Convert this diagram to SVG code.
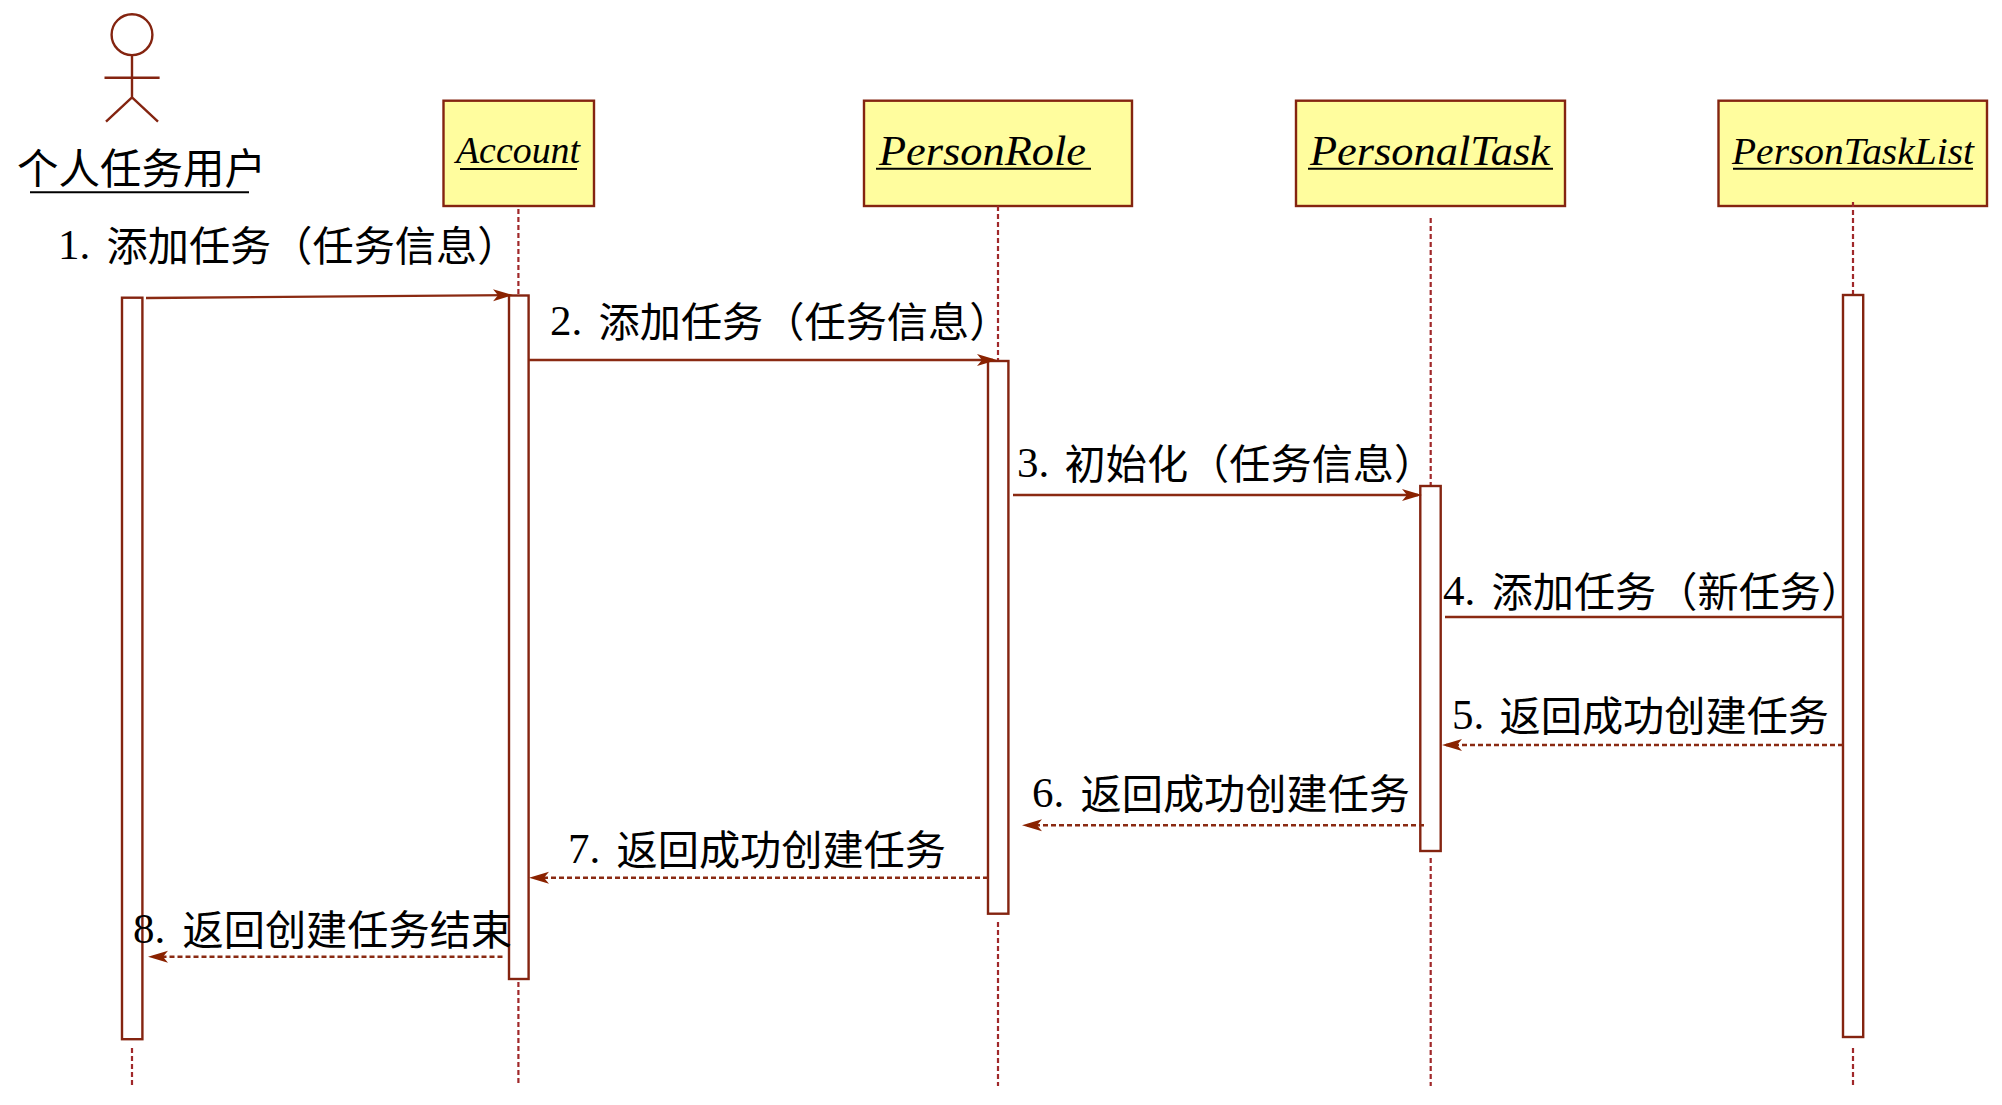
<svg xmlns="http://www.w3.org/2000/svg" width="2002" height="1105" viewBox="0 0 2002 1105">
<defs>
<style>
.box{fill:#fffd9e;stroke:#842410;stroke-width:2.4}
.act{fill:#fff;stroke:#842410;stroke-width:2.4}
.life{fill:none;stroke:#a0282a;stroke-width:2.2;stroke-dasharray:5 3}
.fig{fill:none;stroke:#842410;stroke-width:2.4}
.under{stroke:#000;stroke-width:2}
.msg{fill:none;stroke:#8a2a12;stroke-width:2.4}
.ret{stroke-dasharray:5 3}
.cls{font-family:"Liberation Serif",serif;font-style:italic;fill:#000}
.lbl{font-family:"Liberation Serif","Noto Sans CJK SC",serif;font-size:43px;fill:#000}
.cjk{font-family:"Noto Sans CJK SC",sans-serif;font-size:41.2px;font-weight:400;fill:#000}
</style>
<marker id="head" markerUnits="userSpaceOnUse" markerWidth="22" markerHeight="16" viewBox="0 0 22 16" refX="16" refY="8" orient="auto">
<path d="M20 8L0 2L5 8L0 14Z" fill="#8a2200"/>
</marker>
</defs>
<rect width="2002" height="1105" fill="#fff"/>
<g id="user">
<circle class="fig" cx="132" cy="34.7" r="20.4"/>
<path class="fig" d="M132 55V97.3M104.5 77.7H159.6M106 121.7L132 97.3L158 121.7"/>
<text class="cjk" x="17" y="184" style="font-size:41.5px">个人任务用户</text>
<line class="under" x1="30" y1="192.3" x2="249" y2="192.3"/>
<rect class="act" x="122" y="297.7" width="20.4" height="741.5"/>
<line class="life" x1="132" y1="1048" x2="132" y2="1086"/>
</g>
<g id="account">
<rect class="box" x="443.5" y="100.7" width="150.5" height="105.3"/>
<text class="cls" x="456" y="163" font-size="38" textLength="124" lengthAdjust="spacingAndGlyphs">Account</text>
<line class="under" x1="460" y1="169" x2="577" y2="169"/>
<line class="life" x1="518.4" y1="209" x2="518.4" y2="295"/>
<rect class="act" x="509" y="295.5" width="19.6" height="683.5"/>
<line class="life" x1="518.4" y1="982" x2="518.4" y2="1086"/>
</g>
<g id="personrole">
<rect class="box" x="864" y="100.7" width="268" height="105.3"/>
<text class="cls" x="879" y="165" font-size="42" textLength="207" lengthAdjust="spacingAndGlyphs">PersonRole</text>
<line class="under" x1="876" y1="168.7" x2="1091" y2="168.7"/>
<line class="life" x1="998" y1="206" x2="998" y2="361"/>
<rect class="act" x="988" y="361" width="20.4" height="552.7"/>
<line class="life" x1="998" y1="922" x2="998" y2="1086"/>
</g>
<g id="personaltask">
<rect class="box" x="1296" y="100.7" width="269" height="105.3"/>
<text class="cls" x="1310" y="165" font-size="42" textLength="240" lengthAdjust="spacingAndGlyphs">PersonalTask</text>
<line class="under" x1="1308" y1="168.7" x2="1553" y2="168.7"/>
<line class="life" x1="1430.7" y1="218" x2="1430.7" y2="486"/>
<rect class="act" x="1420.3" y="486" width="20.4" height="365"/>
<line class="life" x1="1430.7" y1="858" x2="1430.7" y2="1086"/>
</g>
<g id="persontasklist">
<rect class="box" x="1718.5" y="100.7" width="268.5" height="105.3"/>
<text class="cls" x="1732" y="164" font-size="37" textLength="242" lengthAdjust="spacingAndGlyphs">PersonTaskList</text>
<line class="under" x1="1733" y1="168.7" x2="1973" y2="168.7"/>
<line class="life" x1="1853" y1="202" x2="1853" y2="295"/>
<rect class="act" x="1843" y="295" width="20.2" height="742"/>
<line class="life" x1="1853" y1="1048" x2="1853" y2="1086"/>
</g>
<g id="connectors">
<line class="msg" x1="146" y1="298" x2="509" y2="295.1" marker-end="url(#head)"/>
<line class="msg" x1="529" y1="360" x2="993" y2="360" marker-end="url(#head)"/>
<line class="msg" x1="1013" y1="495" x2="1418" y2="495" marker-end="url(#head)"/>
<line class="msg" x1="1445" y1="617" x2="1843" y2="617"/>
<line class="msg ret" x1="1843" y1="745" x2="1446" y2="745" marker-end="url(#head)"/>
<line class="msg ret" x1="1424" y1="825.3" x2="1026" y2="825.3" marker-end="url(#head)"/>
<line class="msg ret" x1="988" y1="877.7" x2="533" y2="877.7" marker-end="url(#head)"/>
<line class="msg ret" x1="502.5" y1="956.7" x2="152" y2="956.7" marker-end="url(#head)"/>
</g>
<g id="labels">
<text class="lbl"><tspan x="58" y="259">1.</tspan><tspan class="cjk" x="106.5" y="261">添加任务（任务信息）</tspan></text>
<text class="lbl"><tspan x="550" y="335">2.</tspan><tspan class="cjk" x="598.5" y="337">添加任务（任务信息）</tspan></text>
<text class="lbl"><tspan x="1017" y="477">3.</tspan><tspan class="cjk" x="1064.5" y="479">初始化（任务信息）</tspan></text>
<text class="lbl"><tspan x="1443" y="605">4.</tspan><tspan class="cjk" x="1491.5" y="607">添加任务（新任务）</tspan></text>
<text class="lbl"><tspan x="1452" y="729">5.</tspan><tspan class="cjk" x="1499.5" y="731">返回成功创建任务</tspan></text>
<text class="lbl"><tspan x="1032" y="807">6.</tspan><tspan class="cjk" x="1080.5" y="809">返回成功创建任务</tspan></text>
<text class="lbl"><tspan x="568" y="863">7.</tspan><tspan class="cjk" x="616.5" y="865">返回成功创建任务</tspan></text>
<text class="lbl"><tspan x="133" y="943">8.</tspan><tspan class="cjk" x="182.5" y="945">返回创建任务结束</tspan></text>
</g>
</svg>
